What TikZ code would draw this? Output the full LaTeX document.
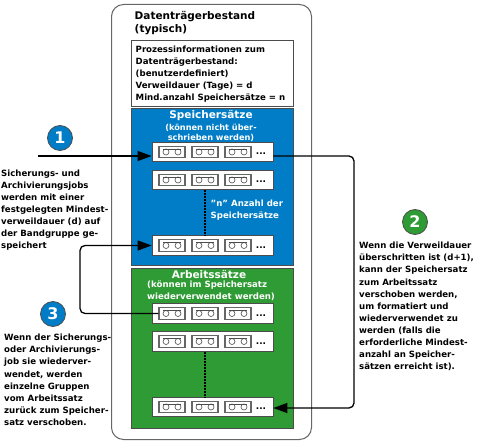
\documentclass[tikz,border=0pt]{standalone}
\usepackage{fontspec}
\setmainfont{DejaVu Sans}
\usetikzlibrary{positioning, arrows.meta}

\definecolor{speicherblue}{RGB}{0,125,198}
\definecolor{arbeitgreen}{RGB}{46,155,52}

\tikzset{
    lbl/.style={align=left, anchor=north west, inner sep=0pt, font=\bfseries\fontsize{8.6}{12.1}\selectfont},
    headlbl/.style={align=center, inner sep=0pt, text=white, font=\bfseries\fontsize{8.6}{11.9}\selectfont},
    zone/.style={draw=black!70, line width=1pt, minimum width=162pt, anchor=north west, inner sep=0pt},
    row/.style={draw=black!70, fill=white, line width=.8pt, minimum width=121pt, minimum height=19.5pt, inner sep=0pt},
    tape/.style={draw=black!60, fill=white, line width=1.1pt, minimum width=26pt, minimum height=11.5pt, inner sep=0pt},
    badge/.style={circle, draw=black!70, line width=.8pt, minimum size=25pt, inner sep=0pt, text=white, font=\bfseries\fontsize{16}{16}\selectfont},
    conn/.style={line width=1.3pt, rounded corners=5pt},
    tip/.style={-{Triangle[length=14pt,width=10pt]}},
    gap/.style={line width=2pt, dash pattern=on 2pt off 1pt}
}

\begin{document}
\begin{tikzpicture}[x=1pt, y=-1pt]
    \useasboundingbox (0,0) rectangle (484,443);

    \node (bestand) [draw=black!60, line width=1pt, rounded corners=12pt, minimum width=200pt, minimum height=435pt, anchor=north west] at (111,4) {};
    \node (title) [lbl, font=\bfseries\fontsize{10.5}{13}\selectfont] at (134.5,11) {Datenträgerbestand\\(typisch)};

    \node (info) [zone, minimum height=66pt] at (131,40.5) {};
    \node (infotext) [lbl] at (135.5,45.5) {Prozessinformationen zum\\Datenträgerbestand:\\(benutzerdefiniert)\\Verweildauer (Tage) = d\\Mind.anzahl Speichersätze = n};

    \node (blue) [zone, fill=speicherblue, minimum height=157pt] at (131,108.5) {};
    \node (bluehead) [headlbl, font=\bfseries\fontsize{10.5}{11}\selectfont] at (211,116) {Speichersätze};
    \node (bluesub) [headlbl, font=\bfseries\fontsize{8.2}{10.2}\selectfont] at (211,132.5) {(können nicht über-\\schrieben werden)};
    \node (green) [zone, fill=arbeitgreen, minimum height=159pt] at (131,268.5) {};
    \node (greenhead) [headlbl, font=\bfseries\fontsize{10.5}{11}\selectfont] at (209,274.5) {Arbeitssätze};
    \node (greensub) [headlbl, align=left, anchor=north west] at (147,281) {(können im Speichersatz\\wiederverwendet werden)};

    % tape rows
    \foreach \name/\y in {b1/152, b2/180, b3/245.5, g1/313.5, g2/341.5, g3/407} {
        \node (\name) [row] at (212.5,\y) {};
        \node (\name t1) [tape] at (172,\y) {};
        \node (\name t2) [tape] at (205,\y) {};
        \node (\name t3) [tape] at (238,\y) {};
        \node (\name dots) [inner sep=0pt, font=\bfseries\fontsize{9}{9}\selectfont] at (261,\y+2) {...};
        \foreach \t in {1,2,3} {
            \draw[black!70, line width=.6pt] (\name t\t.center) ++(-9,-3) -- ++(18,0);
            \draw[black!70, line width=.6pt] (\name t\t.center) ++(-6,0) circle (3pt);
            \draw[black!70, line width=.6pt] (\name t\t.center) ++(6,0) circle (3pt);
        }
    }

    \draw[gap] (b2.south) ++(-7.5,0) -- (205,236);
    \draw[gap] (g2.south) ++(-7.5,0) -- (205,397);
    \node (nlabel) [headlbl, align=left, anchor=north west] at (210.5,200) {"n" Anzahl der\\Speichersätze};

    \node (one) [badge, fill=speicherblue] at (60,138) {1};
    \node (two) [badge, fill=arbeitgreen] at (415,222) {2};
    \node (three) [badge, fill=speicherblue] at (53,314) {3};

    \coordinate (jobin) at (38,156);
    \draw[conn, tip] (jobin) -- (b1.west |- jobin);
    \draw[conn, tip] (b1.east |- jobin) -- (354,156) -- (354,408) -- (g3.east |- 0,408);
    \draw[conn, tip] (g1t1.west) -- (80,313.5) -- (80,245.5) -- (b3.west);

    \node (text1) [lbl] at (1,169.5) {Sicherungs- und\\Archivierungsjobs\\werden mit einer\\festgelegten Mindest-\\verweildauer (d) auf\\der Bandgruppe ge-\\speichert};
    \node (text2) [lbl] at (359,242) {Wenn die Verweildauer\\überschritten ist (d+1),\\kann der Speichersatz\\zum Arbeitssatz\\verschoben werden,\\um formatiert und\\wiederverwendet zu\\werden (falls die\\erforderliche Mindest-\\anzahl an Speicher-\\sätzen erreicht ist).};
    \node (text3) [lbl] at (4,334) {Wenn der Sicherungs-\\oder Archivierungs-\\job sie wiederver-\\wendet, werden\\einzelne Gruppen\\vom Arbeitssatz\\zurück zum Speicher-\\satz verschoben.};
\end{tikzpicture}
\end{document}
